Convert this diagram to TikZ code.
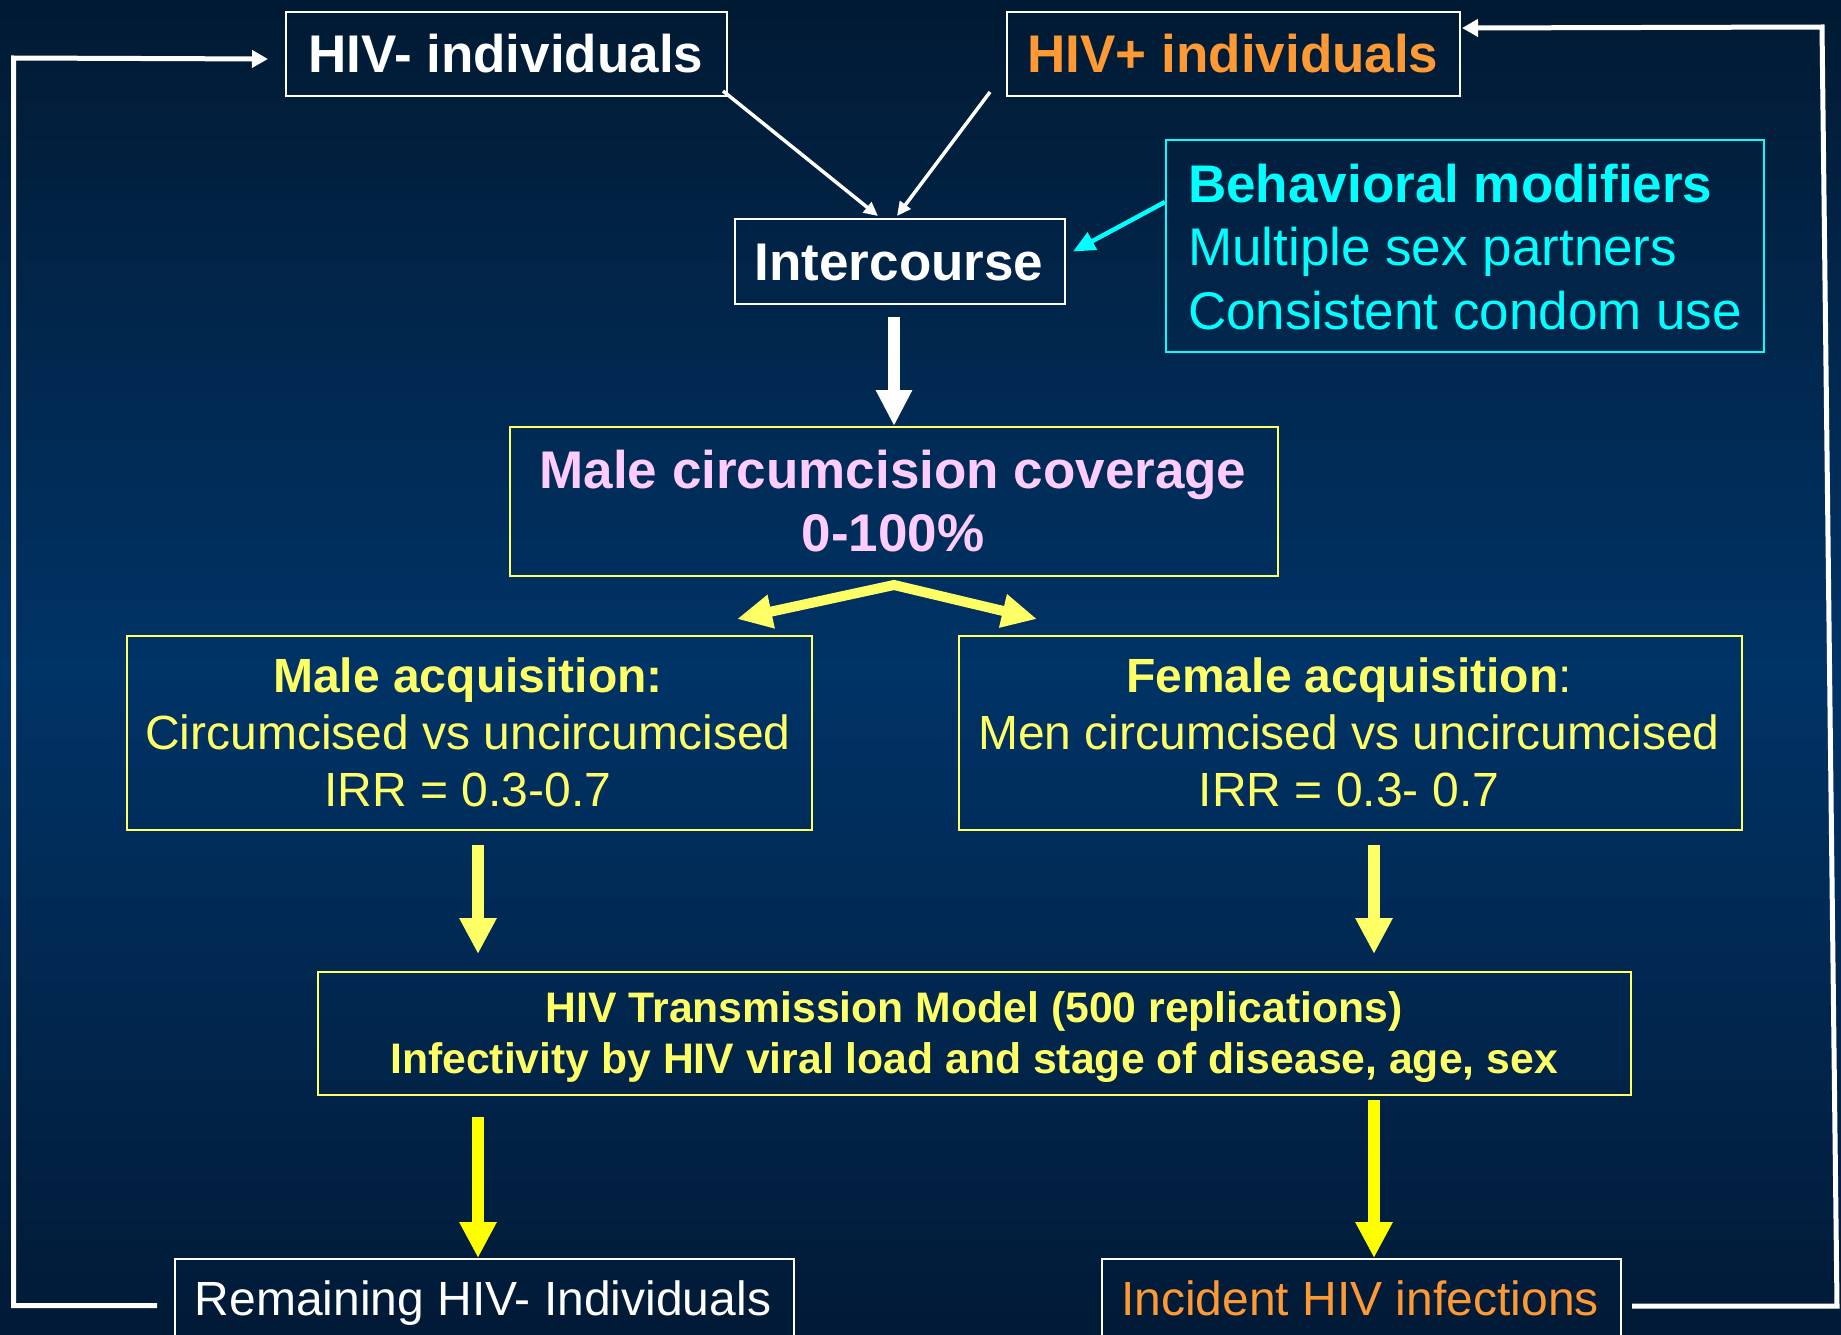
\documentclass[tikz,border=0pt]{standalone}
\usepackage{fontspec}
\setmainfont{Liberation Sans}
\usetikzlibrary{arrows.meta,calc}
\definecolor{bgtop}{HTML}{011A33}
\definecolor{bgmid}{HTML}{003366}
\definecolor{bgbot}{HTML}{011A36}
\definecolor{orng}{HTML}{FF9933}
\definecolor{cyn}{HTML}{00FFFF}
\definecolor{pnk}{HTML}{FFCCFF}
\definecolor{lyel}{HTML}{FFFF66}
\definecolor{yel}{HTML}{FFFF00}
\begin{document}
\begin{tikzpicture}[x=1pt,y=-1pt,
  box/.style={draw=#1,line width=2pt,inner sep=0pt,anchor=north west},
  big/.style={font=\fontsize{53}{64}\selectfont,inner sep=0pt},
  mid/.style={font=\fontsize{48}{58}\selectfont,inner sep=0pt},
  sml/.style={font=\fontsize{42.7}{51}\selectfont,inner sep=0pt},
  thinw/.style={draw=white,line width=3.5pt,-{Triangle[length=14pt,width=13pt]}},
  loopw/.style={draw=white,line width=5pt,-{Triangle[length=16pt,width=17pt]}},
  cyarr/.style={draw=cyn,line width=4.5pt,-{Triangle[length=22pt,width=19pt]}},
  bigw/.style={draw=white,line width=12pt,-{Triangle[length=36pt,width=34pt]}},
  ya/.style={draw=lyel,line width=12pt,-{Triangle[length=36pt,width=35pt]}},
  yb/.style={draw=yel,line width=12pt,-{Triangle[length=36pt,width=35pt]}},
  dbl/.style={draw=lyel,line width=10pt,line join=miter,{Triangle[length=35pt,width=32pt]}-{Triangle[length=35pt,width=32pt]}}
]
\clip (0,0) rectangle (1841,1335);
% background gradient: dark at top and bottom, lighter navy in the middle
\foreach \i in {0,...,66} {
  \pgfmathsetmacro\p{100*\i/66}
  \fill[bgmid!\p!bgtop] (0,\i*10) rectangle (1841,\i*10+10.6);
}
\foreach \i in {67,...,133} {
  \pgfmathsetmacro\p{100*(133-\i)/66}
  \fill[bgmid!\p!bgbot] (0,\i*10) rectangle (1841,\i*10+10.6);
}

% boxes
\node[box=white, minimum width=441pt, minimum height=84pt] (hivneg) at (285,11) {};
\node[box=white, minimum width=453pt, minimum height=84pt] (hivpos) at (1006,11) {};
\node[box=white, minimum width=330pt, minimum height=85pt] (inter) at (734,218) {};
\node[box=cyn, minimum width=598pt, minimum height=212pt] (behav) at (1165,139) {};
\node[box=lyel, minimum width=768pt, minimum height=149pt] (mc) at (509,426) {};
\node[box=lyel, minimum width=685pt, minimum height=194pt] (macq) at (126,635) {};
\node[box=lyel, minimum width=783pt, minimum height=194pt] (facq) at (958,635) {};
\node[box=lyel, minimum width=1313pt, minimum height=123pt] (model) at (317,971) {};
\node[box=white, minimum width=619pt, minimum height=100pt] (rem) at (174,1258) {};
\node[box=white, minimum width=519pt, minimum height=100pt] (inc) at (1101,1258) {};

% texts
\node[big, text=white, anchor=base] (t1) at (506,73) {\bfseries HIV- individuals};
\node[big, text=orng, anchor=base] (t2) at (1233,73) {\bfseries HIV+ individuals};
\node[big, text=white, anchor=base] (t3) at (899,280) {\bfseries Intercourse};
\node[big, text=cyn, anchor=base west] (t4) at (1188,202) {\bfseries Behavioral modifiers};
\node[big, text=cyn, anchor=base west] (t5) at (1188,265) {Multiple sex partners};
\node[big, text=cyn, anchor=base west] (t6) at (1188,329) {Consistent condom use};
\node[big, text=pnk, anchor=base] (t7) at (893,488) {\bfseries Male circumcision coverage};
\node[big, text=pnk, anchor=base] (t8) at (893,551) {\bfseries 0-100\%};
\node[mid, text=lyel, anchor=base] (t9) at (468,692) {\bfseries Male acquisition:};
\node[mid, text=lyel, anchor=base] (t10) at (468,749) {Circumcised vs uncircumcised};
\node[mid, text=lyel, anchor=base] (t11) at (468,806) {IRR = 0.3-0.7};
\node[mid, text=lyel, anchor=base] (t12) at (1349,692) {\textbf{Female acquisition}:};
\node[mid, text=lyel, anchor=base] (t13) at (1349,749) {Men circumcised vs uncircumcised};
\node[mid, text=lyel, anchor=base] (t14) at (1349,806) {IRR = 0.3- 0.7};
\node[sml, text=lyel, anchor=base] (t15) at (974,1022) {\bfseries HIV Transmission Model (500 replications)};
\node[sml, text=lyel, anchor=base] (t16) at (974,1073) {\bfseries Infectivity by HIV viral load and stage of disease, age, sex};
\node[mid, text=white, anchor=base] (t17) at (483,1315) {Remaining HIV- Individuals};
\node[mid, text=orng, anchor=base] (t18) at (1360,1315) {Incident HIV infections};

% connectors
\draw[thinw] ($(hivneg.south east)+(-5,-6)$) -- ($(inter.north)+(-22,-2)$);
\draw[thinw] ($(hivpos.south west)+(-16,-5)$) -- ($(inter.north)+(-3,-2)$);
\draw[cyarr] ($(behav.west)+(0,-44)$) -- ($(inter.east)+(7,-10)$);
\draw[bigw] ($(inter.south)+(-6,12)$) -- (mc.north);
\coordinate (apex) at ($(mc.south)+(0,8)$);
\coordinate (tl) at ($(macq.north)+(267.5,-16)$);
\coordinate (tr) at ($(facq.north)+(-313.5,-16)$);
\draw[dbl] (tl) -- (apex) -- (tr);
\draw[ya] ($(macq.south)+(8.5,14)$) -- ($(model.north)+(-496.5,-17)$);
\draw[ya] ($(facq.south)+(23.5,14)$) -- ($(model.north)+(399.5,-17)$);
\draw[yb] ($(model.south)+(-496.5,21)$) -- ($(rem.north)+(-6.5,0)$);
\draw[yb] ($(model.south)+(399.5,4)$) -- ($(inc.north)+(12.5,0)$);
\coordinate (lb) at (13.5,1305.5);
\coordinate (lt) at (13.5,58);
\draw[loopw] ($(rem.north west)+(-17,47.5)$) -- (lb) -- (lt) -- ($(hivneg.west)+(-17,5)$);
\coordinate (rb) at (1837,1306);
\coordinate (rt) at (1822,27);
\draw[loopw] ($(inc.north east)+(10,48)$) -- (rb) -- (rt) -- ($(hivpos.east)+(1,-26)$);
\end{tikzpicture}
\end{document}
